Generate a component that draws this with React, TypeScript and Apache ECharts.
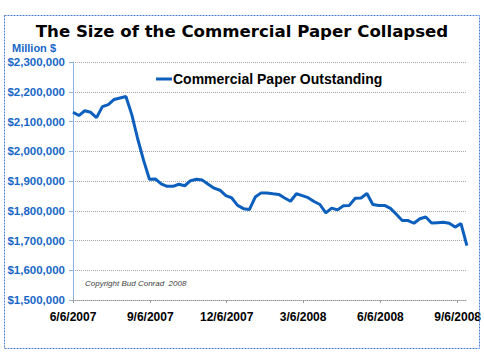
import React, { useEffect, useRef } from "react";
import * as echarts from "echarts";

// Weekly observations starting 6/6/2007 (Million $)
const startDateISO = "2007-06-06";
const seriesName = "Commercial Paper Outstanding";
const paperValues = [
  2131000, 2120000, 2136000, 2131000, 2113000, 2150000, 2157000, 2174000, 2179000, 2184000,
  2123000, 2042000, 1970000, 1906000, 1907000, 1890000, 1882000, 1882000, 1889000, 1884000,
  1901000, 1906000, 1903000, 1889000, 1876000, 1869000, 1851000, 1843000, 1818000, 1807000,
  1804000, 1846000, 1860000, 1860000, 1857000, 1855000, 1843000, 1832000, 1857000, 1851000,
  1844000, 1831000, 1821000, 1793000, 1809000, 1803000, 1817000, 1818000, 1842000, 1843000,
  1858000, 1821000, 1818000, 1818000, 1808000, 1788000, 1767000, 1767000, 1758000, 1773000,
  1779000, 1759000, 1760000, 1761000, 1758000, 1745000, 1757000, 1683000,
];
const xTickDates = ["2007-06-06", "2007-09-06", "2007-12-06", "2008-03-06", "2008-06-06", "2008-09-06"];
const xTickLabels = ["6/6/2007", "9/6/2007", "12/6/2007", "3/6/2008", "6/6/2008", "9/6/2008"];
const yMin = 1500000;
const yMax = 2300000;
const yStep = 100000;

const DAY = 86400000;
const dayOffset = (iso: string) =>
  Math.round((Date.parse(iso + "T00:00:00Z") - Date.parse(startDateISO + "T00:00:00Z")) / DAY);

export default function App() {
  const ref = useRef<HTMLDivElement>(null);
  useEffect(() => {
    if (!ref.current) return;
    const chart = echarts.init(ref.current, undefined, { renderer: "svg" });
    const data = paperValues.map((v, i) => [i * 7, v]);
    const tickOffsets = xTickDates.map(dayOffset);
    const labelFor: Record<number, string> = {};
    tickOffsets.forEach((o, i) => (labelFor[o] = xTickLabels[i]));
    const lastX = (paperValues.length - 1) * 7;

    chart.setOption({
      animation: false,
      backgroundColor: "#ffffff",
      title: {
        text: "The Size of the Commercial Paper Collapsed",
        left: "center",
        top: 18,
        textStyle: {
          fontFamily: "DejaVu Sans",
          fontWeight: "bold",
          fontSize: 16.6,
          color: "#000000",
        },
      },
      legend: {
        left: 151,
        top: 67,
        icon: "rect",
        itemWidth: 16,
        itemHeight: 3,
        itemGap: 4,
        data: [seriesName],
        textStyle: {
          fontFamily: "Liberation Sans",
          fontWeight: "bold",
          fontSize: 14,
          color: "#000000",
          padding: [0, 0, 0, -4],
        },
      },
      grid: { left: 73, right: 17, top: 62, bottom: 64, containLabel: false },
      xAxis: {
        type: "value",
        min: 0,
        max: lastX,
        splitLine: { show: false },
        axisLine: { show: true, onZero: false, lineStyle: { color: "#9a9a9a", type: "dotted", width: 1 } },
        axisTick: {
          show: true,
          customValues: tickOffsets,
          length: 3,
          lineStyle: { color: "#9a9a9a" },
        },
        axisLabel: {
          customValues: tickOffsets,
          formatter: (v: number) => labelFor[v] ?? "",
          fontFamily: "Liberation Sans",
          fontWeight: "bold",
          fontSize: 12,
          color: "#000000",
          margin: 11,
        },
      },
      yAxis: {
        type: "value",
        min: yMin,
        max: yMax,
        interval: yStep,
        axisLine: { show: true, lineStyle: { color: "#8db3e2", width: 1 } },
        axisTick: { show: true, length: 4, lineStyle: { color: "#8db3e2" } },
        splitLine: { show: true, lineStyle: { color: "#a6a6a6", type: "dotted", width: 1 } },
        axisLabel: {
          formatter: (v: number) => "$" + v.toLocaleString("en-US"),
          fontFamily: "Liberation Sans",
          fontWeight: "bold",
          fontSize: 11.5,
          color: "#1767c6",
          margin: 8,
        },
      },
      graphic: [
        {
          type: "rect",
          shape: { x: 4.5, y: 15.5, width: 475, height: 333 },
          style: { fill: "none", stroke: "#4a7fd0", lineWidth: 1, lineDash: [2, 1] },
          z: 100,
        },
        {
          type: "text",
          left: 12,
          top: 42,
          style: {
            text: "Million $",
            fill: "#1767c6",
            font: "bold 11px 'Liberation Sans'",
          },
        },
        {
          type: "text",
          left: 85,
          top: 279,
          style: {
            text: "Copyright Bud Conrad  2008",
            fill: "#404040",
            font: "italic 8px 'Liberation Sans'",
          },
        },
      ],
      series: [
        {
          name: seriesName,
          type: "line",
          data,
          showSymbol: false,
          symbol: "none",
          lineStyle: { color: "#0d5fbd", width: 3 },
          itemStyle: { color: "#0d5fbd" },
        },
      ],
    });
    return () => chart.dispose();
  }, []);
  return (
    <div
      ref={ref}
      style={{ position: "absolute", left: 0, top: 0, width: 484, height: 364 }}
    />
  );
}
